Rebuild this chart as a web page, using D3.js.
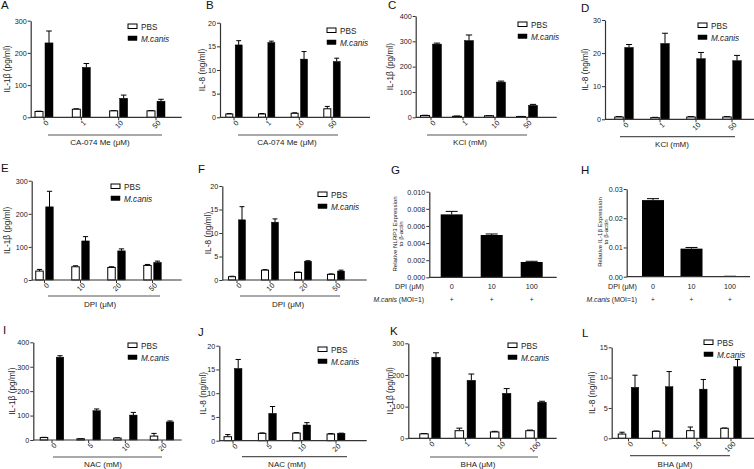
<!DOCTYPE html>
<html><head><meta charset="utf-8">
<script src="https://cdn.jsdelivr.net/npm/d3@7"></script>
<style>body{margin:0;background:#fff}svg{display:block;font-family:"Liberation Sans",Arial,sans-serif}</style>
</head><body><svg id="c" width="754" height="469"></svg>
<script>
// ---------- data ----------
const catA = ["0","1","10","50"], pbsA=[18,25,20,20], pbsErrA=[1,1.5,1,1], mcA=[231,155,59,50], mcErrA=[37,12,10,6];
const catB = ["0","1","10","50"], pbsB=[0.7,0.7,0.85,1.8], pbsErrB=[0.1,0.1,0.1,0.5], mcB=[15.3,15.8,12.3,11.8], mcErrB=[0.9,0.3,1.6,0.7];
const catC = ["0","1","10","50"], pbsC=[7,4,6,3], pbsErrC=[1,1,1,0.5], mcC=[289,303,139,47], mcErrC=[4,22,4,4];
const catD = ["0","1","10","50"], pbsD=[0.7,0.5,0.7,0.7], pbsErrD=[0.1,0.1,0.1,0.1], mcD=[21.7,22.9,18.3,17.7], mcErrD=[0.9,3.1,1.9,1.6];
const catE = ["0","10","20","50"], pbsE=[27,40,38,44], pbsErrE=[5,3,2,3], mcE=[221,118,88,53], mcErrE=[47,13,6,4];
const catF = ["0","10","20","50"], pbsF=[0.7,2.1,1.6,1.2], pbsErrF=[0.1,0.1,0.1,0.1], mcF=[12.8,12.3,4.0,1.9], mcErrF=[2.8,0.7,0.1,0.2];
const catG = ["0","10","100"], valG=[0.00735,0.00494,0.00179], errG=[0.00035,0.00012,0.00008];
const catH = ["0","10","100"], valH=[0.0262,0.0096,0.0001], errH=[0.0005,0.0004,0.00005];
const catI = ["0","5","10","20"], pbsI=[10,5,8,16], pbsErrI=[1,0.5,1,11], mcI=[339,120,102,74], mcErrI=[6,7,11,4];
const catJ = ["0","5","10","20"], pbsJ=[0.84,1.54,1.6,1.4], pbsErrJ=[0.45,0.1,0.1,0.1], mcJ=[15.2,5.75,3.3,1.54], mcErrJ=[1.9,1.45,0.5,0.05];
const catK = ["0","1","10","100"], pbsK=[14,24,20,24], pbsErrK=[1,8,2,2], mcK=[256,183,142,114], mcErrK=[14,20,15,3];
const catL = ["0","1","10","100"], pbsL=[0.7,1.15,1.26,1.65], pbsErrL=[0.3,0.05,0.6,0.05], mcL=[8.4,8.5,8.1,11.8], mcErrL=[2.0,2.5,1.6,1.2];
const seriesNames = ["PBS","M.canis"];

const svg = d3.select("#c");
const AX="#333", TXT="#222";

function yAxis(g, p, y, ticks, fmt){
  const ax = d3.axisLeft(y).tickValues(ticks).tickSize(3).tickSizeOuter(0).tickPadding(1).tickFormat(fmt||d3.format("d"));
  const a = g.append("g").attr("transform",`translate(${p.ax},0)`).call(ax);
  a.select(".domain").attr("stroke",AX).attr("stroke-width",1.2);
  a.selectAll(".tick line").attr("stroke",AX).attr("stroke-width",1);
  a.selectAll(".tick text").attr("fill",TXT).style("font-size","7.2px");
}
function letter(g, t, x, y){ g.append("text").attr("x",x).attr("y",y).text(t).attr("fill","#111").style("font-size","11.5px"); }
function ylabel(g, lines, x, yc, fs, gap){
  lines.forEach((l,i)=>{
    g.append("text").attr("transform",`translate(${x+i*gap},${yc}) rotate(-90)`).attr("text-anchor","middle")
     .attr("fill",TXT).style("font-size",fs+"px").text(l);
  });
}

function grouped(p, cats, pbs, pbsErr, mc, mcErr){
  const g = svg.append("g");
  const y = d3.scaleLinear().domain([0,p.yMax]).range([p.yBot,p.yTop]);
  const x = d3.scalePoint().domain(cats).range([p.c0,p.cN]);
  const ser = d3.scaleOrdinal().domain(seriesNames).range([-p.off,p.off]);
  const rows = [];
  cats.forEach((c,i)=>{ rows.push({c,s:"PBS",v:pbs[i],e:pbsErr[i]}); rows.push({c,s:"M.canis",v:mc[i],e:mcErr[i]}); });
  rows.forEach(r=>{
    const cx = x(r.c)+ser(r.s);
    g.append("line").attr("x1",cx).attr("x2",cx).attr("y1",y(r.v)).attr("y2",y(r.v+r.e)).attr("stroke","#000").attr("stroke-width",1);
    g.append("line").attr("x1",cx-p.bw*0.35).attr("x2",cx+p.bw*0.35).attr("y1",y(r.v+r.e)).attr("y2",y(r.v+r.e)).attr("stroke","#000").attr("stroke-width",1);
  });
  g.selectAll("rect.bar").data(rows).join("rect").attr("class","bar")
    .attr("x",d=>x(d.c)+ser(d.s)-p.bw/2).attr("width",p.bw)
    .attr("y",d=>y(d.v)).attr("height",d=>Math.max(0,p.yBot-y(d.v)))
    .attr("fill",d=>d.s==="PBS"?"#fff":"#000").attr("stroke","#000").attr("stroke-width",d=>d.s==="PBS"?1:0.5);
  yAxis(g,p,y,d3.range(0,p.yMax+p.step/2,p.step));
  g.append("line").attr("x1",p.ax).attr("x2",p.end).attr("y1",p.yBot).attr("y2",p.yBot).attr("stroke",AX).attr("stroke-width",1.2);
  cats.forEach(c=>{
    g.append("line").attr("x1",x(c)).attr("x2",x(c)).attr("y1",p.yBot).attr("y2",p.yBot+3).attr("stroke",AX);
    g.append("text").attr("transform",`translate(${x(c)+5},${p.yBot+6}) rotate(-45)`).attr("text-anchor","end")
      .attr("fill",TXT).style("font-size","7.2px").text(c);
  });
  g.append("line").attr("x1",p.br[0]).attr("x2",p.br[1]).attr("y1",p.brY).attr("y2",p.brY).attr("stroke","#555").attr("stroke-width",1.2);
  g.append("text").attr("x",p.tx).attr("y",p.ty).attr("text-anchor","middle").attr("fill",TXT).style("font-size","8px").text(p.title);
  seriesNames.forEach((s,i)=>{
    const ly = p.ly + i*12;
    g.append("rect").attr("x",p.lx).attr("y",ly).attr("width",9).attr("height",4.5)
      .attr("fill",s==="PBS"?"#fff":"#000").attr("stroke","#000").attr("stroke-width",s==="PBS"?1:0.5);
    g.append("text").attr("x",p.lx+13).attr("y",ly+5.5).attr("fill",TXT).style("font-size","8.2px")
      .style("font-style",s==="PBS"?"normal":"italic").text(s);
  });
  letter(g,p.letter,p.lx0,p.ly0);
  ylabel(g,[p.ylab],p.ylx,(p.yTop+p.yBot)/2,8.3,0);
}

function single(p, cats, vals, errs){
  const g = svg.append("g");
  const y = d3.scaleLinear().domain([0,p.yMax]).range([p.yBot,p.yTop]);
  const x = d3.scalePoint().domain(cats).range([p.c0,p.cN]);
  cats.forEach((c,i)=>{
    const cx=x(c);
    g.append("line").attr("x1",cx).attr("x2",cx).attr("y1",y(vals[i])).attr("y2",y(vals[i]+errs[i])).attr("stroke","#000");
    g.append("line").attr("x1",cx-6).attr("x2",cx+6).attr("y1",y(vals[i]+errs[i])).attr("y2",y(vals[i]+errs[i])).attr("stroke","#000");
  });
  g.selectAll("rect").data(cats).join("rect").attr("x",c=>x(c)-p.bw/2).attr("width",p.bw)
    .attr("y",(c,i)=>y(vals[i])).attr("height",(c,i)=>p.yBot-y(vals[i])).attr("fill","#000");
  yAxis(g,p,y,d3.range(0,p.yMax+p.step/2,p.step),d3.format(p.fmt));
  g.append("line").attr("x1",p.ax).attr("x2",p.end).attr("y1",p.yBot).attr("y2",p.yBot).attr("stroke",AX).attr("stroke-width",1.2);
  g.append("text").attr("x",p.rx).attr("y",p.yBot+12).attr("text-anchor","end").attr("fill",TXT).style("font-size","7.2px").text("DPI (μM)");
  const t = g.append("text").attr("x",p.rx).attr("y",p.yBot+25).attr("text-anchor","end").attr("fill",TXT).style("font-size","6.8px");
  t.append("tspan").style("font-style","italic").text("M.canis");
  t.append("tspan").text(" (MOI=1)");
  cats.forEach(c=>{
    g.append("text").attr("x",x(c)).attr("y",p.yBot+12).attr("text-anchor","middle").attr("fill",TXT).style("font-size","7.2px").text(c);
    g.append("text").attr("x",x(c)).attr("y",p.yBot+25).attr("text-anchor","middle").attr("fill",TXT).style("font-size","6.5px").text("+");
  });
  letter(g,p.letter,p.lx0,p.ly0);
  ylabel(g,p.ylab,p.ylx,p.yc,6.1,6.3);
}

grouped({ax:30.7,end:181.7,yTop:20.7,yBot:117.3,yMax:300,step:100,c0:44,cN:156,off:5,bw:8,lx:128,ly:24,letter:"A",lx0:1,ly0:9,ylab:"IL-1β (pg/ml)",ylx:10,br:[48,162],brY:135,title:"CA-074 Me (μM)",tx:100,ty:145},catA,pbsA,pbsErrA,mcA,mcErrA);
grouped({ax:220,end:370,yTop:22.7,yBot:117.3,yMax:20,step:5,c0:234,cN:332,off:4.7,bw:7,lx:327,ly:28,letter:"B",lx0:206,ly0:9,ylab:"IL-8 (ng/ml)",ylx:205,br:[238,338],brY:135,title:"CA-074 Me (μM)",tx:287,ty:145},catB,pbsB,pbsErrB,mcB,mcErrB);
grouped({ax:415.7,end:556.7,yTop:16,yBot:117.3,yMax:400,step:100,c0:431,cN:527,off:6,bw:9,lx:518,ly:22,letter:"C",lx0:388,ly0:9,ylab:"IL-1β (pg/ml)",ylx:393,br:[427,527],brY:135,title:"KCl (mM)",tx:470,ty:144.5},catC,pbsC,pbsErrC,mcC,mcErrC);
grouped({ax:605,end:754,yTop:20,yBot:119.3,yMax:30,step:10,c0:624,cN:732,off:5,bw:8.5,lx:698,ly:23,letter:"D",lx0:581,ly0:12,ylab:"IL-8 (ng/ml)",ylx:588,br:[620,735],brY:136.7,title:"KCl (mM)",tx:672,ty:147},catD,pbsD,pbsErrD,mcD,mcErrD);
grouped({ax:31.7,end:181.7,yTop:180.7,yBot:280,yMax:300,step:100,c0:44.5,cN:152.5,off:5,bw:7.5,lx:111,ly:184,letter:"E",lx0:1,ly0:172,ylab:"IL-1β (pg/ml)",ylx:10,br:[48,160],brY:296,title:"DPI (μM)",tx:100,ty:306.5},catE,pbsE,pbsErrE,mcE,mcErrE);
grouped({ax:222.3,end:366.7,yTop:186,yBot:280,yMax:20,step:5,c0:237,cN:336,off:5,bw:7,lx:318,ly:192,letter:"F",lx0:198,ly0:173,ylab:"IL-8 (ng/ml)",ylx:211,br:[240,340],brY:296,title:"DPI (μM)",tx:288,ty:306.5},catF,pbsF,pbsErrF,mcF,mcErrF);
single({ax:429.3,end:556.7,yTop:191.7,yBot:277.3,yMax:0.010,step:0.002,fmt:".3f",c0:451.7,cN:531.7,bw:22,rx:424,letter:"G",lx0:391,ly0:174,ylab:["Relative NLRP3 Expression","to β-actin"],ylx:397,yc:234},catG,valG,errG);
single({ax:626.7,end:750,yTop:189,yBot:276.7,yMax:0.03,step:0.01,fmt:".2f",c0:653,cN:730,bw:22,rx:637,letter:"H",lx0:581,ly0:174,ylab:["Relative IL-1β  Expression","to β-actin"],ylx:602,yc:232},catH,valH,errH);
grouped({ax:33.3,end:181.7,yTop:342.3,yBot:440,yMax:400,step:100,c0:52,cN:162,off:8,bw:7.5,lx:128,ly:343,letter:"I",lx0:3,ly0:334,ylab:"IL-1β  (pg/ml)",ylx:15,br:[53,162],brY:457,title:"NAC (mM)",tx:103,ty:466.5},catI,pbsI,pbsErrI,mcI,mcErrI);
grouped({ax:219.3,end:366.7,yTop:345.7,yBot:440.7,yMax:20,step:5,c0:233,cN:336,off:5.2,bw:7.5,lx:318,ly:347,letter:"J",lx0:198,ly0:336,ylab:"IL-8 (ng/ml)",ylx:206,br:[242,347],brY:456.7,title:"NAC (mM)",tx:287,ty:467},catJ,pbsJ,pbsErrJ,mcJ,mcErrJ);
grouped({ax:408.3,end:556.7,yTop:343.3,yBot:438.3,yMax:300,step:100,c0:430,cN:536,off:6,bw:8.5,lx:508,ly:343,letter:"K",lx0:390,ly0:335,ylab:"IL-1β  (pg/ml)",ylx:393,br:[430,538],brY:457,title:"BHA (μM)",tx:478,ty:466.5},catK,pbsK,pbsErrK,mcK,mcErrK);
grouped({ax:611.7,end:754,yTop:347.3,yBot:438.3,yMax:15,step:5,c0:628.5,cN:731,off:6.5,bw:7.5,lx:704,ly:340,letter:"L",lx0:582,ly0:337,ylab:"IL-8 (ng/ml)",ylx:595,br:[630,730],brY:455.7,title:"BHA (μM)",tx:675,ty:467},catL,pbsL,pbsErrL,mcL,mcErrL);
</script></body></html>
